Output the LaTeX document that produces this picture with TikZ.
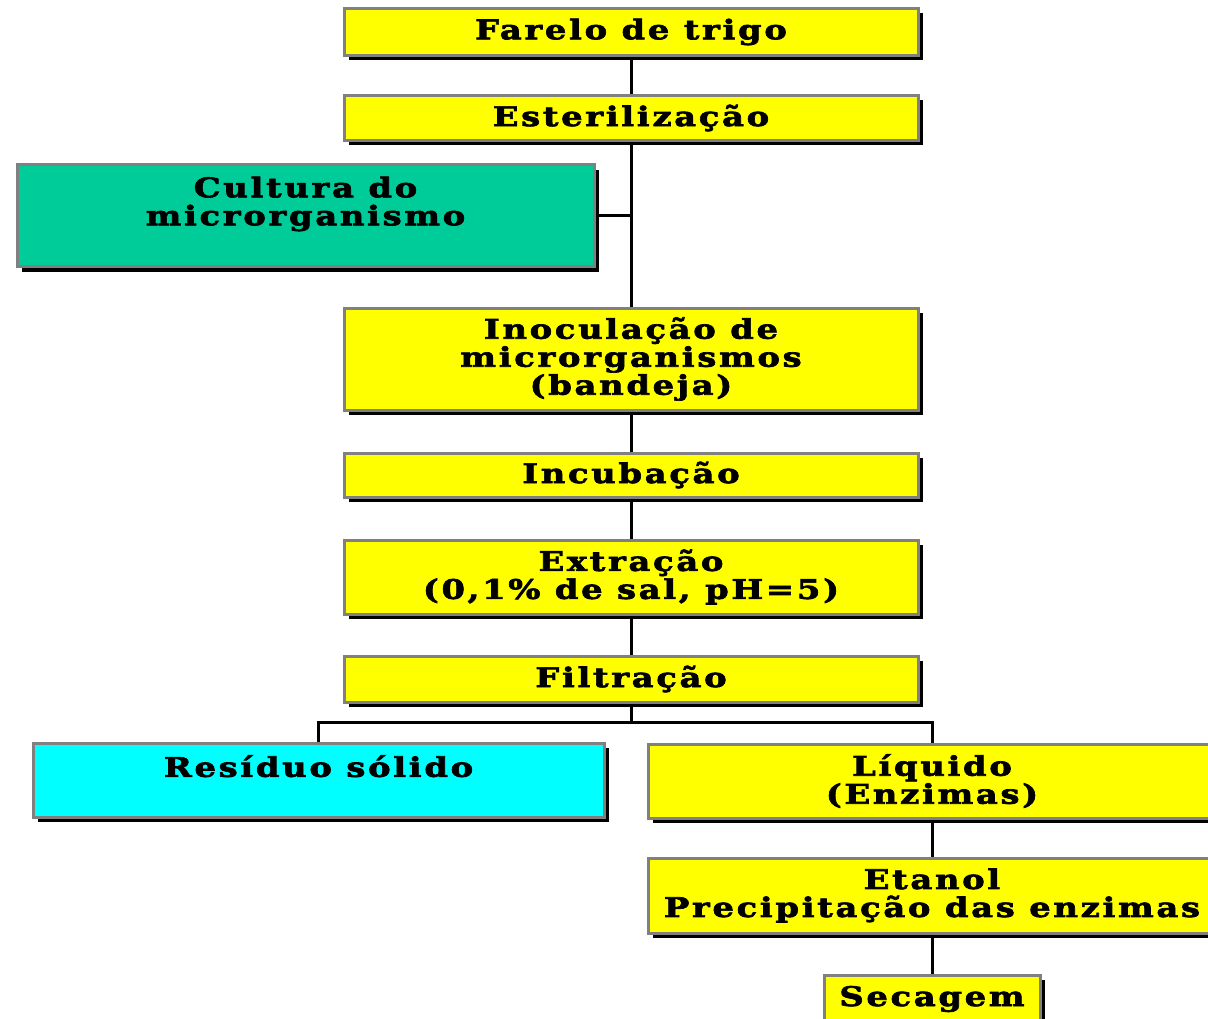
\documentclass[tikz,border=0pt]{standalone}
\usepackage{fontspec}
\setmainfont{DejaVu Serif}[LetterSpace=10, FakeStretch=1.25, BoldFeatures={FakeBold=2.5}]
\usetikzlibrary{shadows}
\definecolor{boxyellow}{RGB}{255,255,0}
\definecolor{boxteal}{RGB}{0,204,153}
\definecolor{boxcyan}{RGB}{0,255,255}
\definecolor{boxgray}{RGB}{128,128,128}
\begin{document}
\begin{tikzpicture}[x=1pt,y=-1pt,
  proc/.style={draw=boxgray, line width=3pt, fill=boxyellow, align=center,
    inner sep=0pt, font=\bfseries\fontsize{27}{28}\selectfont,
    drop shadow={shadow xshift=5pt, shadow yshift=-5pt, fill=black, opacity=1}},
  link/.style={line width=3pt, black}]
\useasboundingbox (0,0) rectangle (1208,1019);
\clip (0,0) rectangle (1208,1019);
\fill[white] (0,0) rectangle (1208,1019);
\node[proc, minimum width=574pt, minimum height=47pt] (f1) at (631,32) {Farelo de trigo};
\node[proc, minimum width=574pt, minimum height=45pt] (f2) at (631,118) {Esterilização};
\node[proc, fill=boxteal, minimum width=577pt, minimum height=102pt] (cult) at (305.5,216) {Cultura do\\microrganismo\\[2pt]\mbox{}};
\node[proc, minimum width=574pt, minimum height=102pt] (inoc) at (631,359) {Inoculação de\\microrganismos\\(bandeja)};
\node[proc, minimum width=574pt, minimum height=44pt] (incub) at (631,475) {Incubação};
\node[proc, minimum width=574pt, minimum height=74pt] (extr) at (631,577) {Extração\\(0,1\% de sal, pH=5)};
\node[proc, minimum width=574pt, minimum height=46pt] (filt) at (631,679) {Filtração};
\node[proc, fill=boxcyan, minimum width=571pt, minimum height=74pt] (res) at (318.5,780) {Resíduo sólido\\\mbox{}};
\node[proc, minimum width=568pt, minimum height=74pt] (liq) at (932,781) {Líquido\\(Enzimas)};
\node[proc, minimum width=568pt, minimum height=75pt] (etan) at (932,895.5) {Etanol\\Precipitação das enzimas};
\node[proc, minimum width=216pt, minimum height=48pt] (sec) at (932,999) {Secagem};
\coordinate (split) at (631,722);
\draw[link] (f1.south) -- (f2.north);
\draw[link] (f2.south) -- (inoc.north);
\draw[link] (cult.east) -- (cult.east -| f2.south);
\draw[link] (inoc.south) -- (incub.north);
\draw[link] (incub.south) -- (extr.north);
\draw[link] (extr.south) -- (filt.north);
\draw[link] (filt.south) -- (split);
\draw[link] (res.north) |- (split) -| (liq.north);
\draw[link] (liq.south) -- (etan.north);
\draw[link] (etan.south) -- (sec.north);
\end{tikzpicture}
\end{document}
